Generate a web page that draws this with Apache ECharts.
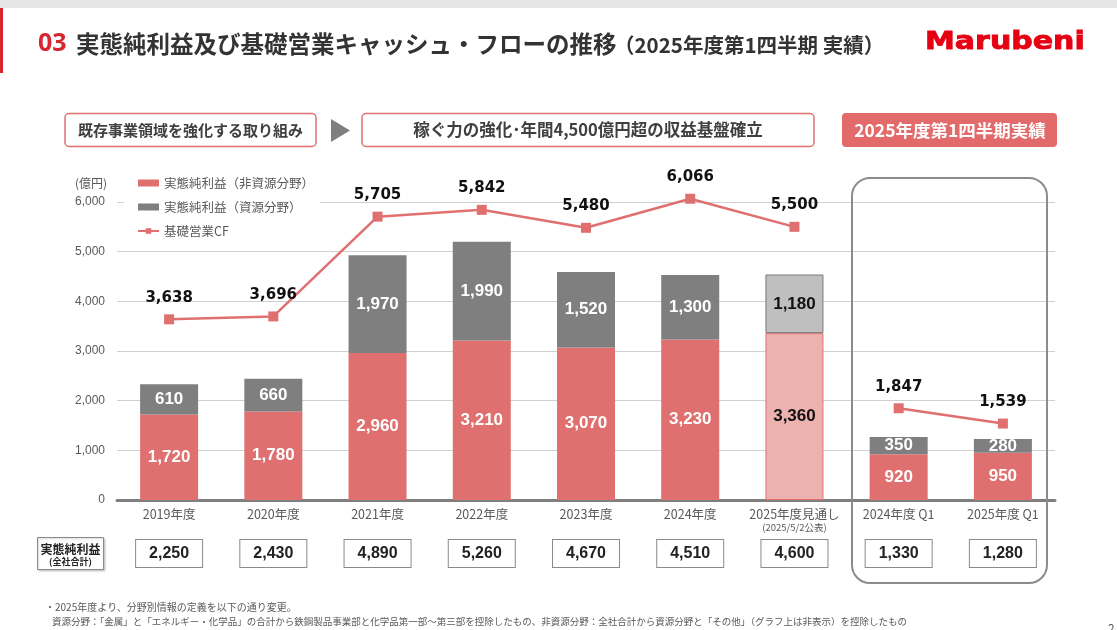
<!DOCTYPE html>
<html><head><meta charset="utf-8">
<script src="https://cdn.jsdelivr.net/npm/echarts@6/dist/echarts.min.js"></script>
<style>html,body{margin:0;padding:0;background:#fff}#c{width:1117px;height:630px}</style>
</head><body><div id="c"></div>
<script>
// ---- data ----
const categories = ['2019年度','2020年度','2021年度','2022年度','2023年度','2024年度','2025年度見通し','2024年度 Q1','2025年度 Q1'];
const nonResource = [1720,1780,2960,3210,3070,3230,3360,920,950];
const resource    = [610,660,1970,1990,1520,1300,1180,350,280];
const baseCF      = [3638,3696,5705,5842,5480,6066,5500,1847,1539];
const totals      = [2250,2430,4890,5260,4670,4510,4600,1330,1280];
const yTicks = [0,1000,2000,3000,4000,5000,6000];
const forecastIndex = 6;
const q1Start = 7;

const fmt = v => v.toLocaleString('en-US');
const JP = '"Noto Sans CJK JP", "Noto Sans", sans-serif';
const RED = '#E07070', GREY = '#7F7F7F';

const chart = echarts.init(document.getElementById('c'), null, {renderer:'canvas'});

const nonResData = nonResource.map((v,i)=> i===forecastIndex ? {value:v, itemStyle:{color:'#EDB2B0', borderColor:RED, borderWidth:1}, label:{color:'#111'}} : v);
const resData = resource.map((v,i)=> i===forecastIndex ? {value:v, itemStyle:{color:'#BFBFBF', borderColor:'#7a7a7a', borderWidth:1}, label:{color:'#111'}} : v);
const cfAnnual = baseCF.map((v,i)=> i<q1Start ? v : '-');
const cfQ1 = baseCF.map((v,i)=> i>=q1Start ? v : '-');

const barLabel = {show:true, position:'inside', color:'#fff', fontWeight:'bold', fontSize:17, fontFamily:'"Liberation Sans", Arial, sans-serif', formatter:p=>fmt(p.value)};
const lineLabel = {show:true, position:'top', distance:9, color:'#111', fontWeight:'bold', fontSize:15, fontFamily:'"DejaVu Sans", sans-serif', formatter:p=>fmt(p.value)};

const option = {
  animation:false,
  backgroundColor:'#fff',
  grid:{left:117, right:62, top:202, bottom:130},
  legend:{
    orient:'vertical', left:124, top:173, padding:[3,6,3,13], itemGap:10,
    backgroundColor:'#fff', itemWidth:21, itemHeight:7,
    textStyle:{color:'#595959', fontSize:12.5, fontFamily:JP, lineHeight:14},
    data:[{name:'実態純利益（非資源分野）', icon:'rect'},{name:'実態純利益（資源分野）', icon:'rect'},{name:'基礎営業CF'}]
  },
  xAxis:[{
    type:'category', data:categories, gridIndex:0, position:'bottom',
    axisLine:{lineStyle:{color:'#7F7F7F', width:3}}, axisTick:{show:false},
    axisLabel:{color:'#595959', fontSize:12.5, fontFamily:JP, margin:8, interval:0,
      formatter:(v)=> v==='2025年度見通し' ? v+'\n{s|(2025/5/2公表)}' : v,
      rich:{s:{fontSize:9.5, color:'#595959', fontFamily:JP, lineHeight:14}}}
  },{
    type:'category', data:categories, gridIndex:0, position:'bottom', offset:0,
    axisLine:{show:false}, axisTick:{show:false}, splitLine:{show:false},
    axisLabel:{interval:0, margin:40, formatter:(v,i)=>'{b|'+fmt(totals[i])+'}',
      rich:{b:{width:66, height:27, lineHeight:27, align:'center', borderColor:'#8a8a8a', borderWidth:1, backgroundColor:'#fff',
        color:'#222', fontWeight:'bold', fontSize:16, fontFamily:'"Liberation Sans", Arial, sans-serif'}}}
  }],
  yAxis:{
    type:'value', min:yTicks[0], max:yTicks[yTicks.length-1], interval:yTicks[1]-yTicks[0],
    axisLine:{show:false}, axisTick:{show:false},
    splitLine:{lineStyle:{color:'#D0D0D0', width:1}},
    axisLabel:{color:'#595959', fontSize:12, fontFamily:'"Liberation Sans", Arial, sans-serif', margin:12, formatter:v=>fmt(v)}
  },
  series:[
    {name:'実態純利益（非資源分野）', type:'bar', stack:'np', barWidth:58, data:nonResData, itemStyle:{color:RED}, label:barLabel, z:2},
    {name:'実態純利益（資源分野）', type:'bar', stack:'np', barWidth:58, data:resData, itemStyle:{color:GREY}, label:barLabel, z:2},
    {name:'基礎営業CF', type:'line', data:cfAnnual, clip:false, symbol:'rect', symbolSize:10, itemStyle:{color:RED}, lineStyle:{color:RED, width:2.5}, label:lineLabel, z:5},
    {name:'基礎営業CF', type:'line', data:cfQ1, clip:false, symbol:'rect', symbolSize:10, itemStyle:{color:RED}, lineStyle:{color:RED, width:2.5}, label:lineLabel, z:5}
  ],
  graphic:[
    {type:'rect', left:0, top:0, shape:{width:1117, height:8}, style:{fill:'#E6E6E6'}},
    {type:'rect', left:0, top:8, shape:{width:3, height:65}, style:{fill:'#D7262E'}},
    {type:'text', x:38, y:44, style:{text:'03', fill:'#D7262E', font:'bold 25px "Noto Sans", sans-serif', verticalAlign:'middle'}},
    {type:'text', x:76, y:44, style:{text:'実態純利益及び基礎営業キャッシュ・フローの推移', fill:'#333', font:'bold 23.5px '+JP, verticalAlign:'middle'}},
    {type:'text', x:614, y:45, style:{text:'（2025年度第1四半期 実績）', fill:'#333', font:'bold 20.5px '+JP, verticalAlign:'middle'}},
    {type:'text', x:925, y:43, scaleX:1.25, style:{text:'Marubeni', fill:'#E60012', stroke:'#E60012', lineWidth:0.8, font:'bold 24px "DejaVu Sans", sans-serif', verticalAlign:'middle'}},
    // header boxes
    {type:'rect', shape:{x:65, y:113.5, width:251, height:33, r:4}, style:{fill:'#fff', stroke:RED, lineWidth:1.5}},
    {type:'text', x:190.5, y:130, style:{text:'既存事業領域を強化する取り組み', fill:'#404040', font:'bold 15px '+JP, align:'center', verticalAlign:'middle'}},
    {type:'polygon', shape:{points:[[331,119],[350,130.5],[331,142]]}, style:{fill:'#7F7F7F'}},
    {type:'rect', shape:{x:362, y:113.5, width:452, height:33, r:4}, style:{fill:'#fff', stroke:RED, lineWidth:1.5}},
    {type:'text', x:588, y:130, style:{text:'稼ぐ力の強化･年間4,500億円超の収益基盤確立', fill:'#404040', font:'bold 16.5px '+JP, align:'center', verticalAlign:'middle'}},
    {type:'rect', shape:{x:842, y:113, width:215, height:34, r:4}, style:{fill:'#E26A6A'}},
    {type:'text', x:950, y:130, style:{text:'2025年度第1四半期実績', fill:'#fff', font:'bold 17.5px '+JP, align:'center', verticalAlign:'middle'}},
    // unit
    {type:'text', x:75, y:183, style:{text:'(億円)', fill:'#595959', font:'12px '+JP, verticalAlign:'middle'}},
    // Q1 frame
    {type:'rect', shape:{x:852, y:178, width:195, height:405, r:18}, style:{fill:'none', stroke:'#8C8C8C', lineWidth:2}, z:10},
    // totals header box
    {type:'rect', shape:{x:37.5, y:537.5, width:66, height:32}, style:{fill:'#fff', stroke:'#8a8a8a', lineWidth:1, shadowBlur:2, shadowColor:'rgba(0,0,0,0.2)', shadowOffsetX:1, shadowOffsetY:1}},
    {type:'text', x:70.5, y:549, style:{text:'実態純利益', fill:'#222', font:'bold 12px '+JP, align:'center', verticalAlign:'middle'}},
    {type:'text', x:70.5, y:562, style:{text:'(全社合計)', fill:'#222', font:'bold 9px '+JP, align:'center', verticalAlign:'middle'}},
    // footnotes
    {type:'text', x:45, y:607, style:{text:'・2025年度より、分野別情報の定義を以下の通り変更。', fill:'#595959', font:'10px '+JP, verticalAlign:'middle'}},
    {type:'text', x:52, y:621, style:{text:'資源分野：「金属」と「エネルギー・化学品」の合計から鉄鋼製品事業部と化学品第一部～第三部を控除したもの、非資源分野：全社合計から資源分野と「その他」（グラフ上は非表示）を控除したもの', fill:'#595959', font:'9.5px '+JP, verticalAlign:'middle'}},
    {type:'text', x:1108, y:628, style:{text:'2', fill:'#595959', font:'12px '+JP, verticalAlign:'middle'}}
  ]
};
chart.setOption(option);
</script></body></html>
